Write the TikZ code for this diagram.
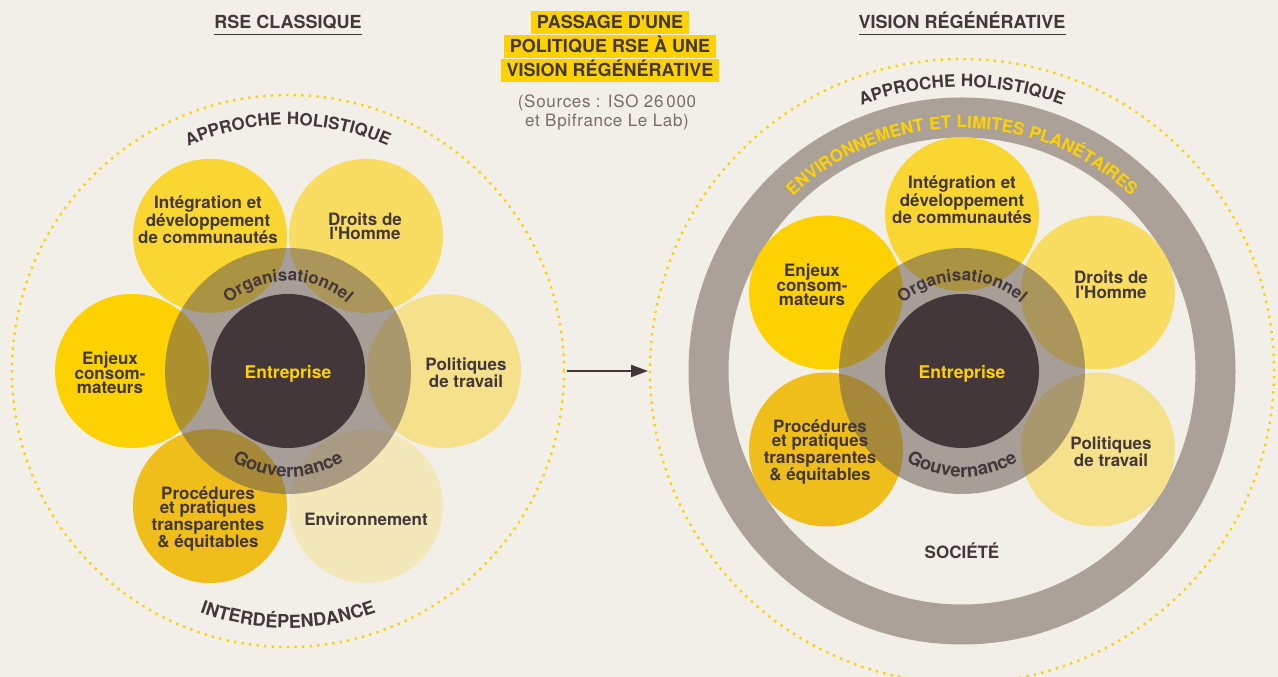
\documentclass[tikz,border=0pt]{standalone}
\usepackage{fontspec}
\setmainfont{TeX Gyre Heros}[Ligatures=TeXOff]
\newfontfamily\lsfont{TeX Gyre Heros}[LetterSpace=3,Ligatures=TeXOff]
\newfontfamily\srcfam{TeX Gyre Heros}[LetterSpace=4,Ligatures=TeXOff]
\usetikzlibrary{decorations.text,arrows.meta}
\definecolor{bg}{RGB}{242,239,233}
\definecolor{dark}{RGB}{67,55,57}
\definecolor{ylw}{RGB}{253,210,0}
\definecolor{pA}{RGB}{250,214,50}
\definecolor{pB}{RGB}{248,221,98}
\definecolor{pC}{RGB}{245,225,140}
\definecolor{pD}{RGB}{243,232,185}
\definecolor{pE}{RGB}{240,190,26}
\definecolor{pF}{RGB}{253,210,0}
\definecolor{veilc}{RGB}{107,92,84}
\definecolor{bigring}{RGB}{172,161,152}
\definecolor{srcc}{RGB}{122,107,102}
\newcommand\curvefont{\lsfont\bfseries\fontsize{17}{17}\selectfont}
\newcommand\interfont{\bfseries\fontsize{18}{18}\selectfont}
\newcommand\gouvfont{\bfseries\fontsize{18.5}{18.5}\selectfont}
\newcommand\titlefont{\bfseries\fontsize{18}{18}\selectfont}
\newcommand\entfont{\bfseries\fontsize{17.5}{17.5}\selectfont}
\begin{document}
\begin{tikzpicture}[x=1pt,y=1pt,
  petal/.style={circle,inner sep=0pt,outer sep=0pt,minimum size=154pt,draw=none},
  ptext/.style={text=dark,align=center,inner sep=0pt,font=\fontsize{17}{14.5}\selectfont\bfseries},
  core/.style={circle,inner sep=0pt,outer sep=0pt,minimum size=154pt,fill=dark},
  veil/.style={circle,inner sep=0pt,outer sep=0pt,minimum size=246pt,fill=veilc,fill opacity=0.55},
  holo/.style={circle,inner sep=0pt,outer sep=0pt,draw=ylw,line width=2.4pt,dash pattern=on 2.4pt off 5.2pt},
  hl/.style={anchor=base,fill=ylw,text=dark,font=\titlefont,inner xsep=5.5pt,inner ysep=0pt,text height=17.5pt,text depth=6pt},
  srcstyle/.style={anchor=base,text=srcc,inner sep=0pt,font=\srcfam\fontsize{17}{17}\selectfont},
  ttl/.style={anchor=base,font=\titlefont,text=dark,inner sep=0pt},
  enttext/.style={anchor=base,text=ylw,font=\entfont,inner sep=0pt}
]
\fill[bg] (0,0) rectangle (1278,677);
\useasboundingbox (0,0) rectangle (1278,677);

% ---------- titles ----------
\node[ttl] (tl) at (288,648) {RSE CLASSIQUE};
\draw[dark,line width=1.5pt] ([yshift=-5.3pt]tl.base west) -- ([yshift=-5.3pt]tl.base east);
\node[ttl] (tr) at (962,648) {VISION RÉGÉNÉRATIVE};
\draw[dark,line width=1.5pt] ([yshift=-5.3pt]tr.base west) -- ([yshift=-5.3pt]tr.base east);

\node[hl] (m1) at (610,648.5) {PASSAGE D'UNE};
\node[hl] (m2) at (610,624.5) {POLITIQUE RSE À UNE};
\node[hl] (m3) at (610,600.5) {VISION RÉGÉNÉRATIVE};
\node[srcstyle] (s1) at (607,569) {(Sources : ISO 26\,000};
\node[srcstyle] (s2) at (607,550) {et Bpifrance Le Lab)};

% ---------- left diagram ----------
\coordinate (L) at (288,306);
\node[holo,minimum size=552pt] (holL) at (L) {};
\node[petal,fill=pA] (intL) at ([shift={(120:156)}]L) {};
\node[petal,fill=pB] (droL) at ([shift={(60:156)}]L) {};
\node[petal,fill=pC] (polL) at ([shift={(0:156)}]L) {};
\node[petal,fill=pD] (envL) at ([shift={(-60:156)}]L) {};
\node[petal,fill=pE] (proL) at ([shift={(-120:156)}]L) {};
\node[petal,fill=pF] (enjL) at ([shift={(180:156)}]L) {};
\node[veil] (vL) at (L) {};
\node[core] (coreL) at (L) {};
\node[enttext] (entL) at (288,298) {Entreprise};

\node[ptext] (tintL) at (208,457) {Intégration et\\développement\\de communautés};
\node[ptext] (tdroL) at (365,450.5) {Droits de\\l'Homme};
\node[ptext] (tenjL) at (110,304) {Enjeux\\consom-\\mateurs};
\node[ptext] (tpolL) at (466,304) {Politiques\\de travail};
\node[ptext] (tproL) at (208,158) {Procédures\\et pratiques\\transparentes\\\& équitables};
\node[ptext] (tenvL) at (366,158) {Environnement};

\path[decorate,decoration={text along path,text align=center,text color=dark,text={|\curvefont|APPROCHE HOLISTIQUE}}]
  ([shift={(160:246)}]L) arc[start angle=160,end angle=20,radius=246];
\path[decorate,decoration={text along path,text align=center,text color=dark,text={|\interfont|INTERDÉPENDANCE}}]
  ([shift={(200:257)}]L) arc[start angle=200,end angle=340,radius=257];
\path[decorate,decoration={text along path,text align=center,text color=dark,text={|\curvefont|Organisationnel}}]
  ([shift={(160:90)}]L) arc[start angle=160,end angle=20,radius=90];
\path[decorate,decoration={text along path,text align=center,text color=dark,text={|\gouvfont|Gouvernance}}]
  ([shift={(200:106)}]L) arc[start angle=200,end angle=340,radius=106];

% ---------- right diagram ----------
\coordinate (R) at (962,306);
\node[holo,minimum size=624pt] (holR) at (R) {};
\node[circle,draw=bigring,line width=40pt,minimum size=507pt,inner sep=0pt,outer sep=0pt] (ringR) at (R) {};
\node[petal,fill=pA] (intR) at ([shift={(90:157)}]R) {};
\node[petal,fill=pB] (droR) at ([shift={(30:157)}]R) {};
\node[petal,fill=pC] (polR) at ([shift={(-30:157)}]R) {};
\node[petal,fill=pE] (proR) at ([shift={(-150:157)}]R) {};
\node[petal,fill=pF] (enjR) at ([shift={(150:157)}]R) {};
\node[veil] (vR) at (R) {};
\node[core] (coreR) at (R) {};
\node[enttext] (entR) at (962,298) {Entreprise};

\node[ptext] (tintR) at (962,477) {Intégration et\\développement\\de communautés};
\node[ptext] (tenjR) at (812,392) {Enjeux\\consom-\\mateurs};
\node[ptext] (tdroR) at (1111,392) {Droits de\\l'Homme};
\node[ptext] (tpolR) at (1111,225) {Politiques\\de travail};
\node[ptext] (tproR) at (820,225) {Procédures\\et pratiques\\transparentes\\\& équitables};
\node[ptext] (tsocR) at (962,126) {SOCIÉTÉ};

\path[decorate,decoration={text along path,text align=center,text color=dark,text={|\curvefont|APPROCHE HOLISTIQUE}}]
  ([shift={(160:284)}]R) arc[start angle=160,end angle=20,radius=284];
\path[decorate,decoration={text along path,text align=center,text color=ylw,text={|\curvefont|ENVIRONNEMENT ET LIMITES PLANÉTAIRES}}]
  ([shift={(175:243)}]R) arc[start angle=175,end angle=5,radius=243];
\path[decorate,decoration={text along path,text align=center,text color=dark,text={|\curvefont|Organisationnel}}]
  ([shift={(160:90)}]R) arc[start angle=160,end angle=20,radius=90];
\path[decorate,decoration={text along path,text align=center,text color=dark,text={|\gouvfont|Gouvernance}}]
  ([shift={(200:106)}]R) arc[start angle=200,end angle=340,radius=106];

% ---------- arrow ----------
\draw[dark,line width=2.2pt,-{Triangle[length=17pt,width=12pt]},shorten <=3pt,shorten >=2pt] (holL.east) -- (holR.west);
\end{tikzpicture}
\end{document}
